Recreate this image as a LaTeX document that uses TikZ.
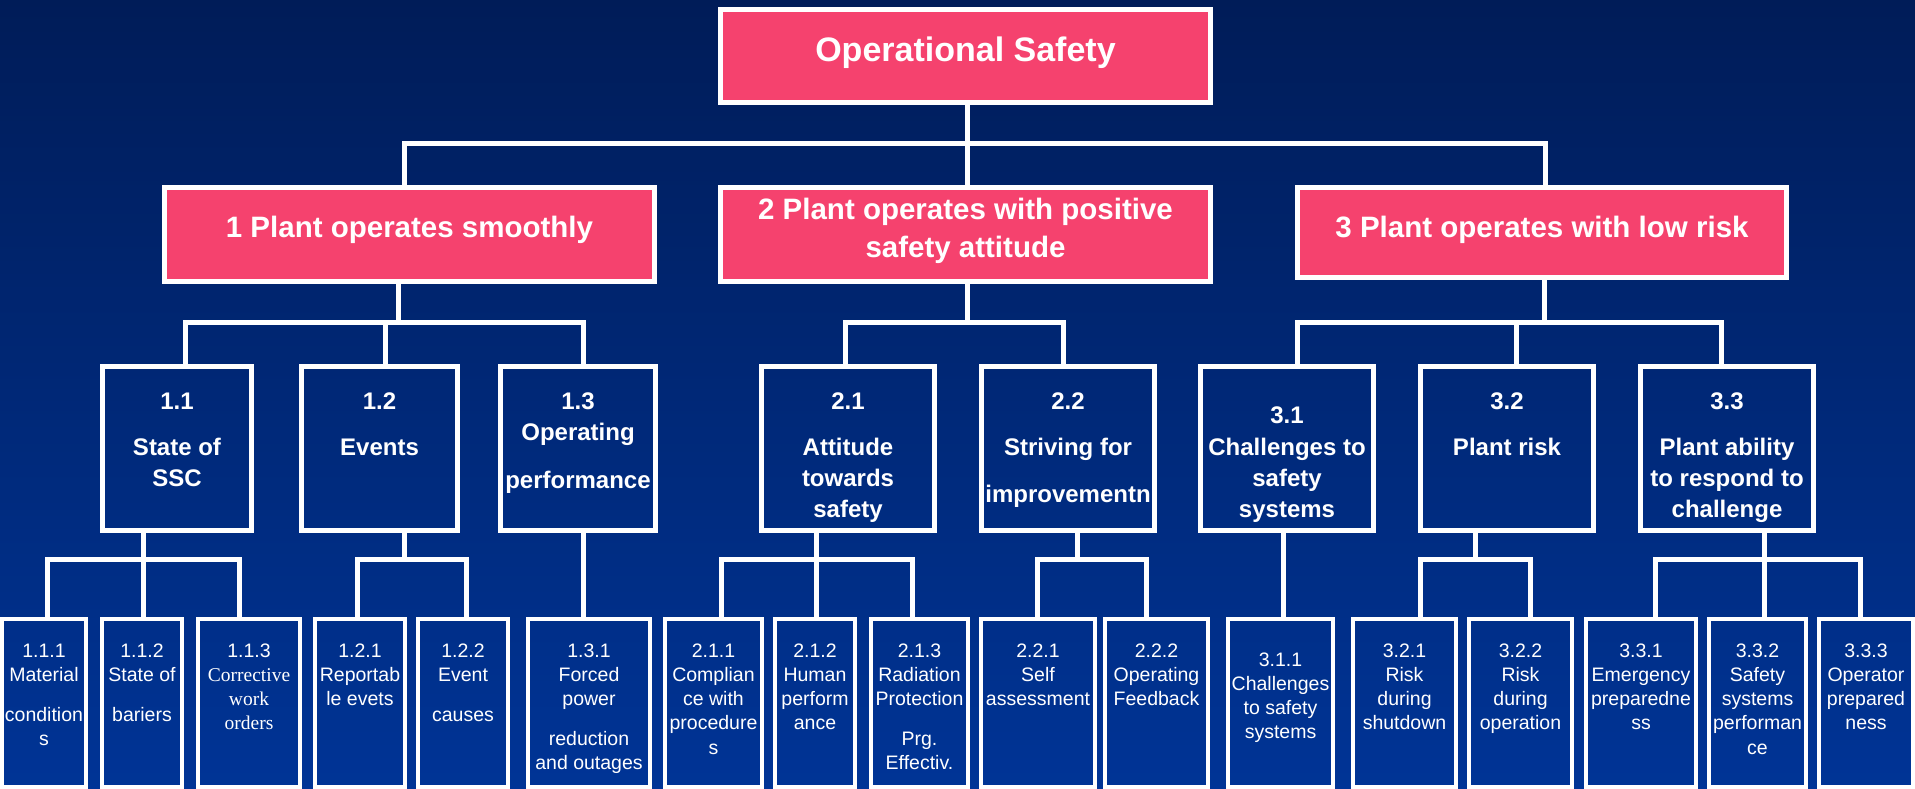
\documentclass[tikz,border=0pt]{standalone}
\usepackage{fontspec}
\setmainfont{Liberation Sans}
\newfontfamily\tnrfont{Liberation Serif}
\definecolor{pinkc}{RGB}{245,66,110}
\definecolor{bgtop}{RGB}{0,28,88}
\definecolor{bgbot}{RGB}{0,52,150}
\tikzset{
  pinkbox/.style={draw=white, line width=5bp, fill=pinkc, inner sep=0pt},
  midbox/.style={draw=white, line width=5bp, inner sep=0pt},
  leafbox/.style={draw=white, line width=4bp, inner sep=0pt, minimum height=168bp},
  conn/.style={draw=white, line width=5bp, line join=miter},
  tzero/.style={text=white, font=\bfseries\fontsize{34bp}{40bp}\selectfont, anchor=base, inner sep=0pt},
  tone/.style={text=white, align=center, font=\bfseries\fontsize{29.5bp}{38bp}\selectfont, anchor=base, inner sep=0pt},
  ttwo/.style={text=white, align=center, font=\bfseries\fontsize{24bp}{31bp}\selectfont, anchor=base, inner sep=0pt},
  tthree/.style={text=white, align=center, font=\fontsize{19.5bp}{24.3bp}\selectfont, anchor=base, inner sep=0pt},
}
\begin{document}
\begin{tikzpicture}[x=1bp,y=-1bp]
\useasboundingbox (0,0) rectangle (1915,789);
\shade[top color=bgtop,bottom color=bgbot] (0,0) rectangle (1915,789);

% ---- boxes
\node[pinkbox, minimum width=490bp, minimum height=93bp] (n0) at (965.5,56) {};
\node[pinkbox, minimum width=490bp, minimum height=94bp] (n1) at (409.5,234.5) {};
\node[pinkbox, minimum width=490bp, minimum height=94bp] (n2) at (965.5,234.5) {};
\node[pinkbox, minimum width=489bp, minimum height=90bp] (n3) at (1542,232.5) {};

\node[midbox, minimum width=149bp, minimum height=164bp] (n11) at (177,448.5) {};
\node[midbox, minimum width=156bp, minimum height=164bp] (n12) at (379.5,448.5) {};
\node[midbox, minimum width=155bp, minimum height=164bp] (n13) at (578,448.5) {};
\node[midbox, minimum width=173bp, minimum height=164bp] (n21) at (848,448.5) {};
\node[midbox, minimum width=173bp, minimum height=164bp] (n22) at (1068,448.5) {};
\node[midbox, minimum width=173bp, minimum height=164bp] (n31) at (1287,448.5) {};
\node[midbox, minimum width=173bp, minimum height=164bp] (n32) at (1507,448.5) {};
\node[midbox, minimum width=173bp, minimum height=164bp] (n33) at (1727,448.5) {};

\node[leafbox, minimum width=84bp] (n111) at (44,703) {};
\node[leafbox, minimum width=80bp] (n112) at (142,703) {};
\node[leafbox, minimum width=102bp] (n113) at (249,703) {};
\node[leafbox, minimum width=90bp] (n121) at (360,703) {};
\node[leafbox, minimum width=90bp] (n122) at (463,703) {};
\node[leafbox, minimum width=122bp] (n131) at (589,703) {};
\node[leafbox, minimum width=97bp] (n211) at (713.5,703) {};
\node[leafbox, minimum width=80bp] (n212) at (815,703) {};
\node[leafbox, minimum width=97bp] (n213) at (919.5,703) {};
\node[leafbox, minimum width=114bp] (n221) at (1038,703) {};
\node[leafbox, minimum width=103bp] (n222) at (1156.5,703) {};
\node[leafbox, minimum width=105bp] (n311) at (1280.5,703) {};
\node[leafbox, minimum width=103bp] (n321) at (1404.5,703) {};
\node[leafbox, minimum width=103bp] (n322) at (1520.5,703) {};
\node[leafbox, minimum width=110bp] (n331) at (1641,703) {};
\node[leafbox, minimum width=97bp] (n332) at (1757.5,703) {};
\node[leafbox, minimum width=94bp] (n333) at (1866,703) {};

% ---- connectors level 0 -> 1
\coordinate (j0) at (967,143);
\coordinate (b0l) at (404,143);
\coordinate (b0r) at (1545,143);
\draw[conn] (n0.south -| j0) -- (j0 |- n2.north);
\draw[conn] (b0l |- n1.north) -- (b0l) -- (b0r) -- (b0r |- n3.north);

% ---- level 1 -> 2
\coordinate (j1) at (398,322);
\coordinate (b1l) at (185,322);
\coordinate (b1r) at (583.5,322);
\coordinate (m1) at (385,322);
\draw[conn] (n1.south -| j1) -- (j1);
\draw[conn] (b1l |- n11.north) -- (b1l) -- (b1r) -- (b1r |- n13.north);
\draw[conn] (m1) -- (m1 |- n12.north);

\coordinate (j2) at (967,322);
\coordinate (b2l) at (845.5,322);
\coordinate (b2r) at (1063.5,322);
\draw[conn] (n2.south -| j2) -- (j2);
\draw[conn] (b2l |- n21.north) -- (b2l) -- (b2r) -- (b2r |- n22.north);

\coordinate (j3) at (1544.5,322);
\coordinate (b3l) at (1297.5,322);
\coordinate (b3r) at (1721.5,322);
\coordinate (m3) at (1516.5,322);
\draw[conn] (n3.south -| j3) -- (j3);
\draw[conn] (b3l |- n31.north) -- (b3l) -- (b3r) -- (b3r |- n33.north);
\draw[conn] (m3) -- (m3 |- n32.north);

% ---- level 2 -> 3
\coordinate (c11) at (143.5,559.5);
\coordinate (c11l) at (47.5,559.5);
\coordinate (c11r) at (239.5,559.5);
\draw[conn] (n11.south -| c11) -- (c11 |- n112.north);
\draw[conn] (c11l |- n111.north) -- (c11l) -- (c11r) -- (c11r |- n113.north);

\coordinate (c12) at (404.5,559.5);
\coordinate (c12l) at (357,559.5);
\coordinate (c12r) at (466,559.5);
\draw[conn] (n12.south -| c12) -- (c12);
\draw[conn] (c12l |- n121.north) -- (c12l) -- (c12r) -- (c12r |- n122.north);

\coordinate (c13) at (583.5,559.5);
\draw[conn] (n13.south -| c13) -- (c13 |- n131.north);

\coordinate (c21) at (816.5,559.5);
\coordinate (c21l) at (721,559.5);
\coordinate (c21r) at (912,559.5);
\draw[conn] (n21.south -| c21) -- (c21 |- n212.north);
\draw[conn] (c21l |- n211.north) -- (c21l) -- (c21r) -- (c21r |- n213.north);

\coordinate (c22) at (1077.5,559.5);
\coordinate (c22l) at (1037,559.5);
\coordinate (c22r) at (1146,559.5);
\draw[conn] (n22.south -| c22) -- (c22);
\draw[conn] (c22l |- n221.north) -- (c22l) -- (c22r) -- (c22r |- n222.north);

\coordinate (c31) at (1283.5,559.5);
\draw[conn] (n31.south -| c31) -- (c31 |- n311.north);

\coordinate (c32) at (1475.5,559.5);
\coordinate (c32l) at (1420,559.5);
\coordinate (c32r) at (1530,559.5);
\draw[conn] (n32.south -| c32) -- (c32);
\draw[conn] (c32l |- n321.north) -- (c32l) -- (c32r) -- (c32r |- n322.north);

\coordinate (c33) at (1764.5,559.5);
\coordinate (c33l) at (1655,559.5);
\coordinate (c33r) at (1860,559.5);
\draw[conn] (n33.south -| c33) -- (c33 |- n332.north);
\draw[conn] (c33l |- n331.north) -- (c33l) -- (c33r) -- (c33r |- n333.north);

% ---- texts (anchor=base is the baseline of the last line)
\node[tzero] (t0) at (965.5,62) {Operational Safety};
\node[tone] (t1) at (409.5,237) {1 Plant operates smoothly};
\node[tone] (t2) at (965.5,257) {2 Plant operates with positive\\safety attitude};
\node[tone] (t3) at (1542,237) {3 Plant operates with low risk};

\node[ttwo] (t11) at (177,486) {1.1\\[15bp]State of\\SSC};
\node[ttwo] (t12) at (379.5,455) {1.2\\[15bp]Events};
\node[ttwo] (t13) at (578,488) {1.3\\Operating\\[17bp]performance};
\node[ttwo] (t21) at (848,517) {2.1\\[15bp]Attitude\\towards\\safety};
\node[ttwo] (t22) at (1068,502) {2.2\\[15bp]Striving for\\[16bp]improvementn};
\node[ttwo] (t31) at (1287,517) {3.1\\[1bp]Challenges to\\safety\\systems};
\node[ttwo] (t32) at (1507,455) {3.2\\[15bp]Plant risk};
\node[ttwo] (t33) at (1727,517) {3.3\\[15bp]Plant ability\\to respond to\\challenge};

\node[tthree] (t111) at (44,745.6) {1.1.1\\Material\\[15.7bp]condition\\s};
\node[tthree] (t112) at (142,721.3) {1.1.2\\State of\\[15.7bp]bariers};
\node[tthree] (t113) at (249,729.9) {1.1.3\\{\tnrfont Corrective}\\{\tnrfont work}\\{\tnrfont orders}};
\node[tthree] (t121) at (360,705.6) {1.2.1\\Reportab\\le evets};
\node[tthree] (t122) at (463,721.3) {1.2.2\\Event\\[15.7bp]causes};
\node[tthree] (t131) at (589,769.9) {1.3.1\\Forced\\power\\[15.7bp]reduction\\and outages};
\node[tthree] (t211) at (713.5,754.2) {2.1.1\\Complian\\ce with\\procedure\\s};
\node[tthree] (t212) at (815,729.9) {2.1.2\\Human\\perform\\ance};
\node[tthree] (t213) at (919.5,769.9) {2.1.3\\Radiation\\Protection\\[15.7bp]Prg.\\Effectiv.};
\node[tthree] (t221) at (1038,705.6) {2.2.1\\Self\\assessment};
\node[tthree] (t222) at (1156.5,705.6) {2.2.2\\Operating\\Feedback};
\node[tthree] (t311) at (1280.5,738.9) {3.1.1\\Challenges\\to safety\\systems};
\node[tthree] (t321) at (1404.5,729.9) {3.2.1\\Risk\\during\\shutdown};
\node[tthree] (t322) at (1520.5,729.9) {3.2.2\\Risk\\during\\operation};
\node[tthree] (t331) at (1641,729.9) {3.3.1\\Emergency\\preparedne\\ss};
\node[tthree] (t332) at (1757.5,754.2) {3.3.2\\Safety\\systems\\performan\\ce};
\node[tthree] (t333) at (1866,729.9) {3.3.3\\Operator\\prepared\\ness};
\end{tikzpicture}
\end{document}
